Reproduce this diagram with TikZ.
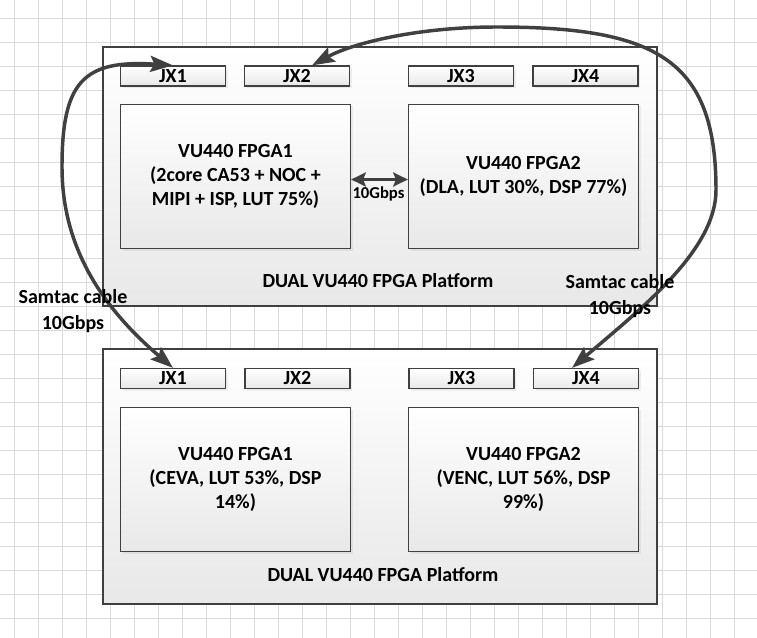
\documentclass[tikz,border=0pt]{standalone}
\usepackage{fontspec}
\setmainfont{Carlito}
\usepackage{tikz}
\usetikzlibrary{arrows.meta,shadows}

\definecolor{linegray}{RGB}{64,64,64}
\definecolor{gridgray}{RGB}{218,218,218}
\definecolor{boxgray}{RGB}{232,232,232}

\tikzset{
  gridline/.style={draw=gridgray, line width=0.75pt},
  board/.style={draw=linegray, line width=0.9pt, top color=white, bottom color=boxgray, minimum width=415.5pt, inner sep=0pt},
  jxbox/.style={draw=linegray, line width=0.9pt, top color=white, bottom color=boxgray, minimum width=78.75pt, minimum height=15pt, inner sep=0pt, font=\fontsize{15}{18}\selectfont\bfseries, drop shadow={shadow xshift=1.5pt, shadow yshift=-1.5pt, opacity=0.12}},
  fpgabox/.style={draw=linegray, line width=0.9pt, top color=white, bottom color=boxgray, minimum width=172.5pt, minimum height=108pt, inner sep=0pt, align=center, font=\fontsize{15}{18}\selectfont\bfseries, drop shadow={shadow xshift=1.5pt, shadow yshift=-1.5pt, opacity=0.12}},
  boardlabel/.style={font=\fontsize{15}{18}\selectfont\bfseries},
  cablelabel/.style={align=center, font=\fontsize{15}{19.5}\selectfont\bfseries},
  cable/.style={draw=linegray, line width=2.6pt, arrows={Stealth[length=17pt,width=12pt,inset=3pt]-Stealth[length=17pt,width=12pt,inset=3pt]}},
  link/.style={draw=linegray, line width=2.4pt, arrows={Stealth[length=11pt,width=10.5pt,inset=2pt]-Stealth[length=11pt,width=10.5pt,inset=2pt]}},
}

\begin{document}
\begin{tikzpicture}[x=0.75pt,y=0.75pt,yscale=-1,xscale=1]
\fill[white] (0,0) rectangle (757,638);
\useasboundingbox (0,0) rectangle (757,638);

%Grid
\foreach \i in {0,...,30} \draw[gridline] ({14.5+24*\i},0) -- ({14.5+24*\i},638);
\foreach \j in {0,...,25} \draw[gridline] (0,{18.5+24*\j}) -- (757,{18.5+24*\j});

%Shape: Rectangle [top board]
\draw (380,176.5) node[board, minimum height=194.25pt] (tboard) {};
%Shape: Rectangle [bottom board]
\draw (380,476.5) node[board, minimum height=191.25pt] (bboard) {};

% Text Node
\draw (173,76) node[jxbox] (tJX1) {JX1};
% Text Node
\draw (297,76) node[jxbox] (tJX2) {JX2};
% Text Node
\draw (461,76) node[jxbox] (tJX3) {JX3};
% Text Node
\draw (585.5,76) node[jxbox] (tJX4) {JX4};

% Text Node
\draw (235.5,176.5) node[fpgabox] (tFPGA1) {VU440 FPGA1\\(2core CA53 + NOC +\\MIPI + ISP, LUT 75\%)};
% Text Node
\draw (523.5,176.5) node[fpgabox] (tFPGA2) {VU440 FPGA2\\(DLA, LUT 30\%, DSP 77\%)};

% Text Node
\draw (378,281) node[boardlabel] (tlabel) {DUAL VU440 FPGA Platform};

% Text Node
\draw (173,378.5) node[jxbox] (bJX1) {JX1};
% Text Node
\draw (297.5,378.5) node[jxbox] (bJX2) {JX2};
% Text Node
\draw (461.5,378.5) node[jxbox] (bJX3) {JX3};
% Text Node
\draw (586,378.5) node[jxbox] (bJX4) {JX4};

% Text Node
\draw (235.5,479.5) node[fpgabox] (bFPGA1) {VU440 FPGA1\\(CEVA, LUT 53\%, DSP\\14\%)};
% Text Node
\draw (523.5,479.5) node[fpgabox] (bFPGA2) {VU440 FPGA2\\(VENC, LUT 56\%, DSP\\99\%)};

% Text Node
\draw (383,575) node[boardlabel] (blabel) {DUAL VU440 FPGA Platform};

%Straight Lines [10Gbps between FPGAs]
\draw[link] ([yshift=2.25pt]tFPGA1.east) -- ([yshift=2.25pt]tFPGA2.west);
% Text Node
\draw (378.5,194) node[font=\fontsize{12.5}{15}\selectfont\bfseries] (midrate) {10Gbps};

%Curve Lines [left cable]
\draw[cable] (tJX1.north) .. controls +(-90,-6) and +(0,-85) .. (62,167) .. controls +(0,83) and +(-68,-58) .. (bJX1.north);
%Curve Lines [right cable]
\draw[cable] ([xshift=-10.5pt]bJX4.north) .. controls +(70,-60) and +(0,60) .. (716,190) .. controls +(0,-130) and +(160,0) .. (497,27) .. controls +(-80,0) and +(40,-22) .. ([xshift=11.25pt]tJX2.north);

% Text Node
\draw (73,311.5) node[cablelabel] (lrate) {Samtac cable\\10Gbps};
% Text Node
\draw (620,296) node[cablelabel] (rrate) {Samtac cable\\10Gbps};

\end{tikzpicture}
\end{document}
